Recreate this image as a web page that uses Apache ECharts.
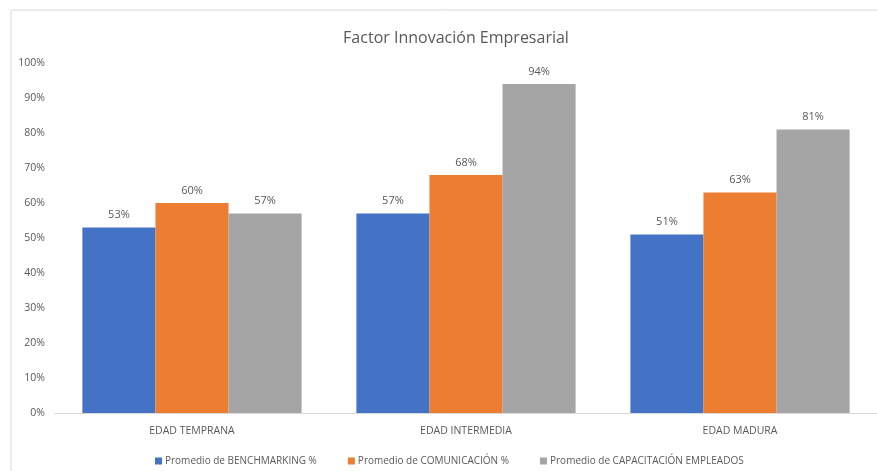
<!DOCTYPE html>
<html>
<head>
<meta charset="utf-8">
<script src="https://cdn.jsdelivr.net/npm/echarts@6/dist/echarts.min.js"></script>
<style>
html,body{margin:0;padding:0;background:#fff;}
#chart{width:877px;height:471px;}
</style>
</head>
<body>
<div id="chart"></div>
<script>
var title = 'Factor Innovación Empresarial';
var categories = ['EDAD TEMPRANA', 'EDAD INTERMEDIA', 'EDAD MADURA'];
var seriesNames = ['Promedio de BENCHMARKING %', 'Promedio de COMUNICACIÓN %', 'Promedio de CAPACITACIÓN EMPLEADOS'];
var benchmarking = [0.53, 0.57, 0.51];
var comunicacion = [0.60, 0.68, 0.63];
var capacitacion = [0.57, 0.94, 0.81];
var colors = ['#4472C4', '#ED7D31', '#A5A5A5'];

var FONT = 'Open Sans';
var chart = echarts.init(document.getElementById('chart'), null, {renderer: 'canvas'});
function mk(name, data, color) {
  return {
    name: name, type: 'bar', data: data,
    barGap: '0%', barCategoryGap: '20%',
    itemStyle: {color: color},
    label: {show: true, position: 'top', distance: 7, color: '#595959', fontSize: 11, fontFamily: FONT,
      formatter: function (p) { return Math.round(p.value * 100) + '%'; }}
  };
}
chart.setOption({
  animation: false,
  backgroundColor: '#fff',
  graphic: [{type: 'rect', shape: {x: 11, y: 10, width: 900, height: 500}, style: {fill: 'none', stroke: '#d9d9d9', lineWidth: 1}, silent: true}],
  title: {text: title, left: 451, top: 25, textAlign: 'center',
    textStyle: {fontFamily: FONT, fontWeight: 'normal', fontSize: 16, color: '#595959'}},
  legend: {top: 451, left: 150, itemWidth: 7, itemHeight: 7, itemGap: 31, icon: 'rect',
    textStyle: {fontFamily: FONT, fontSize: 10, color: '#595959', padding: [0,0,0,-2]},
    data: seriesNames},
  grid: {left: 55, right: 0, top: 63, bottom: 58, containLabel: false},
  xAxis: {type: 'category', data: categories,
    axisLine: {lineStyle: {color: '#d9d9d9'}}, axisTick: {show: false},
    axisLabel: {color: '#595959', fontSize: 10.5, fontFamily: FONT, margin: 13}},
  yAxis: {type: 'value', min: 0, max: 1, interval: 0.1,
    axisLine: {show: false}, axisTick: {show: false}, splitLine: {show: false},
    axisLabel: {color: '#595959', fontSize: 10.5, fontFamily: FONT, margin: 10,
      formatter: function (v) { return Math.round(v * 100) + '%'; }}},
  series: [mk(seriesNames[0], benchmarking, colors[0]), mk(seriesNames[1], comunicacion, colors[1]), mk(seriesNames[2], capacitacion, colors[2])]
});
</script>
</body>
</html>
